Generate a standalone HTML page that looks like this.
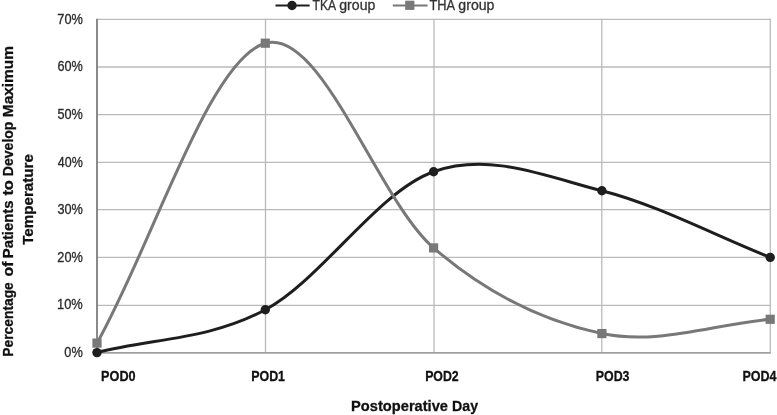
<!DOCTYPE html>
<html><head><meta charset="utf-8"><style>
html,body{margin:0;padding:0;background:#fff;width:777px;height:415px;overflow:hidden}
svg{display:block;will-change:transform;font-family:"Liberation Sans",sans-serif}
</style></head><body>
<svg width="777" height="415" viewBox="0 0 777 415">
<rect width="777" height="415" fill="#fff"/>
<line x1="97.0" y1="305.28" x2="770.90" y2="305.28" stroke="#bababa" stroke-width="1.3"/>
<line x1="97.0" y1="257.46" x2="770.90" y2="257.46" stroke="#bababa" stroke-width="1.3"/>
<line x1="97.0" y1="209.53" x2="770.90" y2="209.53" stroke="#bababa" stroke-width="1.3"/>
<line x1="97.0" y1="162.28" x2="770.90" y2="162.28" stroke="#bababa" stroke-width="1.3"/>
<line x1="97.0" y1="114.53" x2="770.90" y2="114.53" stroke="#bababa" stroke-width="1.3"/>
<line x1="97.0" y1="67.02" x2="770.90" y2="67.02" stroke="#bababa" stroke-width="1.3"/>
<line x1="97.0" y1="19.28" x2="770.90" y2="19.28" stroke="#bababa" stroke-width="1.3"/>
<line x1="265.50" y1="18.68" x2="265.50" y2="352.60" stroke="#bababa" stroke-width="1.3"/>
<line x1="434.00" y1="18.68" x2="434.00" y2="352.60" stroke="#bababa" stroke-width="1.3"/>
<line x1="601.80" y1="18.68" x2="601.80" y2="352.60" stroke="#bababa" stroke-width="1.3"/>
<line x1="770.30" y1="18.68" x2="770.30" y2="352.60" stroke="#bababa" stroke-width="1.3"/>
<line x1="97.0" y1="18.80" x2="97.0" y2="353.60" stroke="#8a8a8a" stroke-width="2"/>
<line x1="97.0" y1="352.80" x2="770.80" y2="352.80" stroke="#a0a0a0" stroke-width="1.8"/>
<path d="M97.00,352.60 C153.10,338.32 209.20,339.91 265.30,309.76 C321.40,279.61 377.50,191.55 433.60,171.72 C489.70,151.89 545.80,176.48 601.90,190.76 C658.00,205.04 714.10,235.19 770.20,257.40" fill="none" stroke="#1e1e1e" stroke-width="3.0" stroke-linejoin="round"/>
<circle cx="97.00" cy="352.60" r="4.7" fill="#1e1e1e"/>
<circle cx="265.30" cy="309.76" r="4.7" fill="#1e1e1e"/>
<circle cx="433.60" cy="171.72" r="4.7" fill="#1e1e1e"/>
<circle cx="601.90" cy="190.76" r="4.7" fill="#1e1e1e"/>
<circle cx="770.20" cy="257.40" r="4.7" fill="#1e1e1e"/>
<path d="M97.00,343.08 C153.10,243.12 209.20,59.07 265.30,43.20 C321.40,27.33 377.50,199.49 433.60,247.88 C489.70,296.27 545.80,321.66 601.90,333.56 C658.00,345.46 714.10,324.04 770.20,319.28" fill="none" stroke="#787878" stroke-width="3.0" stroke-linejoin="round"/>
<rect x="92.40" y="338.48" width="9.2" height="9.2" fill="#787878"/>
<rect x="260.70" y="38.60" width="9.2" height="9.2" fill="#787878"/>
<rect x="429.00" y="243.28" width="9.2" height="9.2" fill="#787878"/>
<rect x="597.30" y="328.96" width="9.2" height="9.2" fill="#787878"/>
<rect x="765.60" y="314.68" width="9.2" height="9.2" fill="#787878"/>
<line x1="275.5" y1="5.5" x2="309.6" y2="5.5" stroke="#1e1e1e" stroke-width="2.2"/>
<circle cx="292" cy="5.5" r="4.7" fill="#1e1e1e"/>
<line x1="392.8" y1="5.5" x2="427.6" y2="5.5" stroke="#787878" stroke-width="2.2"/>
<rect x="405.20" y="0.70" width="9.2" height="9.2" fill="#787878"/>
<text x="64.35" y="357.00" font-size="13.9" fill="#2a2a2a" stroke="#2a2a2a" stroke-width="0.3" textLength="18.41" lengthAdjust="spacingAndGlyphs">0%</text>
<text x="57.05" y="309.40" font-size="13.9" fill="#2a2a2a" stroke="#2a2a2a" stroke-width="0.3" textLength="25.78" lengthAdjust="spacingAndGlyphs">10%</text>
<text x="57.35" y="261.80" font-size="13.9" fill="#2a2a2a" stroke="#2a2a2a" stroke-width="0.3" textLength="25.53" lengthAdjust="spacingAndGlyphs">20%</text>
<text x="57.45" y="214.20" font-size="13.9" fill="#2a2a2a" stroke="#2a2a2a" stroke-width="0.3" textLength="25.45" lengthAdjust="spacingAndGlyphs">30%</text>
<text x="57.87" y="166.60" font-size="13.9" fill="#2a2a2a" stroke="#2a2a2a" stroke-width="0.3" textLength="24.92" lengthAdjust="spacingAndGlyphs">40%</text>
<text x="57.38" y="119.00" font-size="13.9" fill="#2a2a2a" stroke="#2a2a2a" stroke-width="0.3" textLength="25.41" lengthAdjust="spacingAndGlyphs">50%</text>
<text x="57.39" y="71.40" font-size="13.9" fill="#2a2a2a" stroke="#2a2a2a" stroke-width="0.3" textLength="25.39" lengthAdjust="spacingAndGlyphs">60%</text>
<text x="57.29" y="23.80" font-size="13.9" fill="#2a2a2a" stroke="#2a2a2a" stroke-width="0.3" textLength="25.58" lengthAdjust="spacingAndGlyphs">70%</text>
<text x="101.10" y="380.60" font-size="14.9" fill="#111111" stroke="#111111" stroke-width="0.3" font-weight="bold" textLength="34.52" lengthAdjust="spacingAndGlyphs">POD0</text>
<text x="251.15" y="380.60" font-size="14.9" fill="#111111" stroke="#111111" stroke-width="0.3" font-weight="bold" textLength="33.91" lengthAdjust="spacingAndGlyphs">POD1</text>
<text x="425.17" y="380.60" font-size="14.9" fill="#111111" stroke="#111111" stroke-width="0.3" font-weight="bold" textLength="33.55" lengthAdjust="spacingAndGlyphs">POD2</text>
<text x="595.78" y="380.60" font-size="14.9" fill="#111111" stroke="#111111" stroke-width="0.3" font-weight="bold" textLength="33.67" lengthAdjust="spacingAndGlyphs">POD3</text>
<text x="742.45" y="380.60" font-size="14.9" fill="#111111" stroke="#111111" stroke-width="0.3" font-weight="bold" textLength="34.10" lengthAdjust="spacingAndGlyphs">POD4</text>
<text x="351.09" y="410.80" font-size="15.4" fill="#111111" stroke="#111111" stroke-width="0.3" font-weight="bold" textLength="96.91" lengthAdjust="spacingAndGlyphs">Postoperative</text>
<text x="452.06" y="410.80" font-size="15.4" fill="#111111" stroke="#111111" stroke-width="0.3" font-weight="bold" textLength="25.98" lengthAdjust="spacingAndGlyphs">Day</text>
<text transform="translate(12.65,356.68) rotate(-90)" font-size="15.4" fill="#111111" stroke="#111111" stroke-width="0.3" font-weight="bold" textLength="74.49" lengthAdjust="spacingAndGlyphs">Percentage</text>
<text transform="translate(12.65,276.47) rotate(-90)" font-size="15.4" fill="#111111" stroke="#111111" stroke-width="0.3" font-weight="bold" textLength="14.88" lengthAdjust="spacingAndGlyphs">of</text>
<text transform="translate(12.65,258.24) rotate(-90)" font-size="15.4" fill="#111111" stroke="#111111" stroke-width="0.3" font-weight="bold" textLength="57.70" lengthAdjust="spacingAndGlyphs">Patients</text>
<text transform="translate(12.65,195.61) rotate(-90)" font-size="15.4" fill="#111111" stroke="#111111" stroke-width="0.3" font-weight="bold" textLength="15.52" lengthAdjust="spacingAndGlyphs">to</text>
<text transform="translate(12.65,176.20) rotate(-90)" font-size="15.4" fill="#111111" stroke="#111111" stroke-width="0.3" font-weight="bold" textLength="54.66" lengthAdjust="spacingAndGlyphs">Develop</text>
<text transform="translate(12.65,117.19) rotate(-90)" font-size="15.4" fill="#111111" stroke="#111111" stroke-width="0.3" font-weight="bold" textLength="71.05" lengthAdjust="spacingAndGlyphs">Maximum</text>
<text transform="translate(33.10,244.76) rotate(-90)" font-size="15.4" fill="#111111" stroke="#111111" stroke-width="0.3" font-weight="bold" textLength="90.61" lengthAdjust="spacingAndGlyphs">Temperature</text>
<text x="312.54" y="9.70" font-size="13.9" fill="#333333" stroke="#333333" stroke-width="0.3" textLength="23.54" lengthAdjust="spacingAndGlyphs">TKA</text>
<text x="339.28" y="9.70" font-size="13.9" fill="#333333" stroke="#333333" stroke-width="0.3" textLength="36.08" lengthAdjust="spacingAndGlyphs">group</text>
<text x="429.38" y="9.70" font-size="13.9" fill="#333333" stroke="#333333" stroke-width="0.3" textLength="25.62" lengthAdjust="spacingAndGlyphs">THA</text>
<text x="458.37" y="9.70" font-size="13.9" fill="#333333" stroke="#333333" stroke-width="0.3" textLength="36.07" lengthAdjust="spacingAndGlyphs">group</text>
</svg>
</body></html>
